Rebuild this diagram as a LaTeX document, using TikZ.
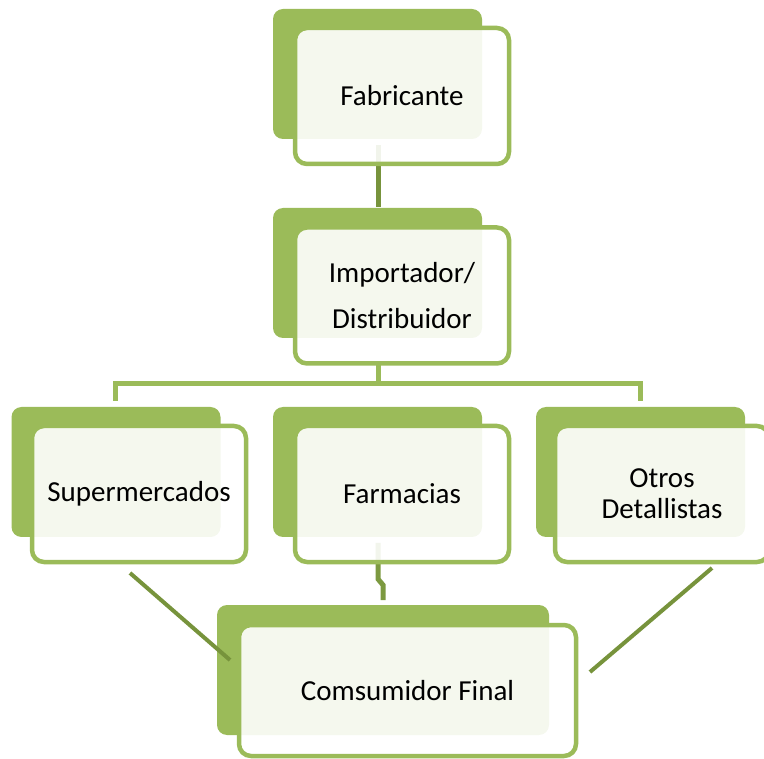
\documentclass[tikz,border=0pt]{standalone}
\usepackage{fontspec}
\setmainfont{Carlito}
\definecolor{gA}{HTML}{9BBB59}
\definecolor{gD}{HTML}{77933C}
\begin{document}
\begin{tikzpicture}[x=1pt,y=-1pt,
  back/.style={fill=gA, rounded corners=10pt, minimum width=209pt, minimum height=130pt, inner sep=0pt},
  front/.style={draw=gA, line width=4.5pt, fill=white, fill opacity=0.9, text opacity=1,
    rounded corners=12pt, minimum width=214pt, minimum height=136pt, inner sep=0pt,
    align=center, font=\fontsize{29}{35}\selectfont},
  conn/.style={draw=gD, line width=5pt},
  bus/.style={draw=gA, line width=5pt}]
\useasboundingbox (0,0) rectangle (764,759);
% back shapes
\node[back] (fabB) at (377.5,74) {};
\node[back] (impB) at (377.5,273) {};
\node[back] (supB) at (116,472) {};
\node[back] (farB) at (377.5,472) {};
\node[back] (otrB) at (640.5,472) {};
\node[back, minimum width=332pt] (conB) at (383,670) {};
% connector end points
\coordinate (f1) at (378,145);
\coordinate (f2) at (378,207);
\coordinate (i1) at (378,365);
\coordinate (busY) at (0,384);
\coordinate (s1) at (115.5,401);
\coordinate (o1) at (640,401);
\coordinate (p1) at (378,543);
\coordinate (p2) at (378,579);
\coordinate (p3) at (383,585);
\coordinate (p4) at (383,600);
\coordinate (d1) at (130,573);
\coordinate (d2) at (230,660);
\coordinate (e1) at (712,568);
\coordinate (e2) at (590,672);
% connectors
\draw[conn] (f1) -- (f2);
\draw[bus] (i1) -- (i1 |- busY);
\draw[bus, line join=miter] (s1) -- (s1 |- busY) -- (o1 |- busY) -- (o1);
\draw[conn, draw=gD!85!gA] (p1) -- (p2) -- (p3) -- (p4);
\draw[conn, line width=4pt] (d1) -- (d2);
\draw[conn, line width=4pt] (e1) -- (e2);
% front shapes with text
\node[front] (fab) at (402,96) {Fabricante};
\node[front, font=\fontsize{29}{46}\selectfont] (imp) at (402,295.5) {Importador/\\Distribuidor};
\node[front] (sup) at (139,494) {Supermercados};
\node[front] (far) at (402,494) {Farmacias};
\node[front, font=\fontsize{29}{31}\selectfont] (otr) at (662,494) {Otros\\Detallistas};
\node[front, minimum width=337pt, minimum height=131pt] (con) at (407.5,690.5) {Comsumidor Final};
\end{tikzpicture}
\end{document}
